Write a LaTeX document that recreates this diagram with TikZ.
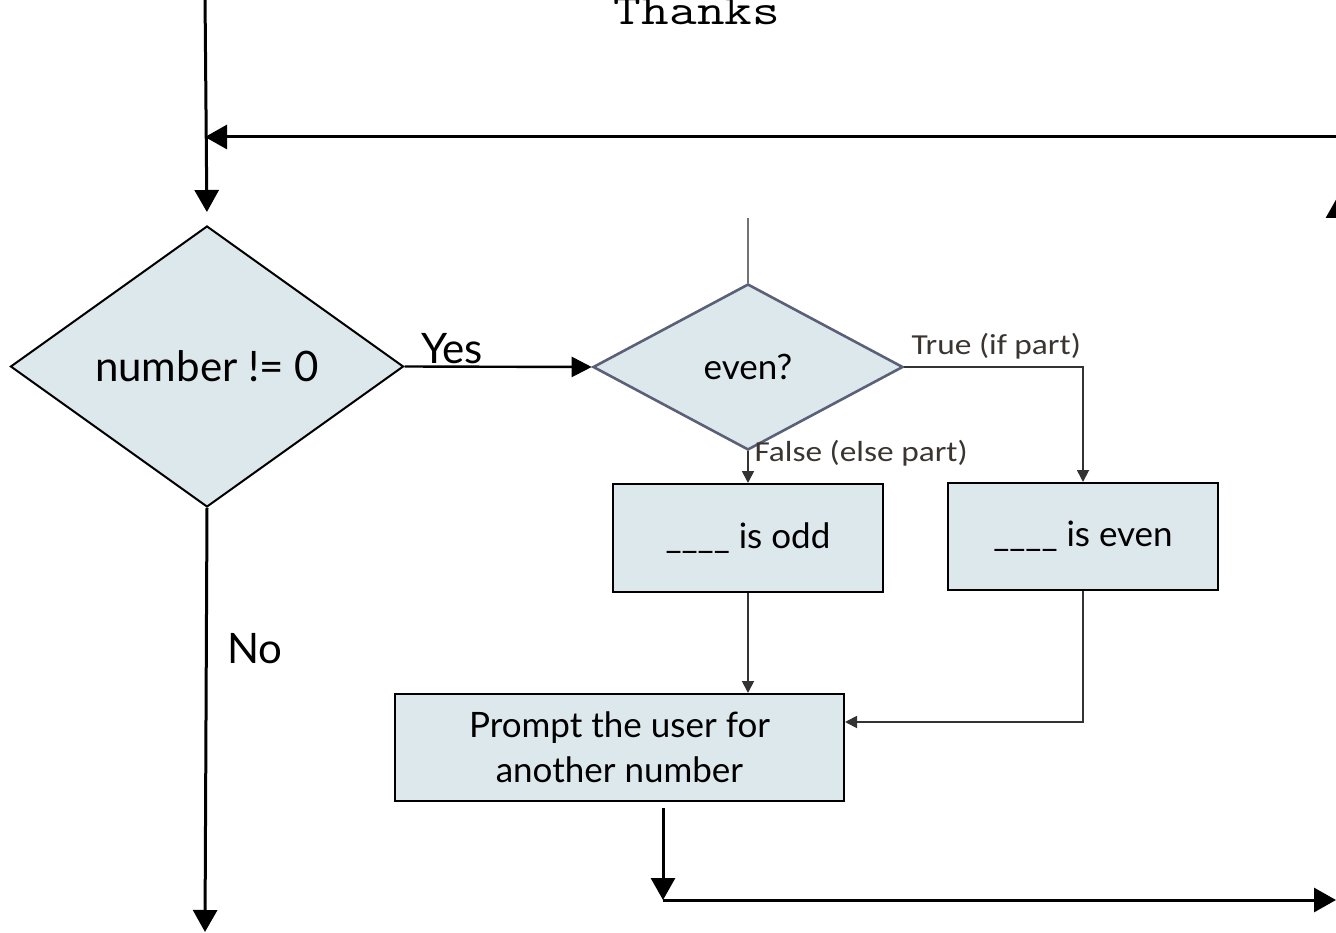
\documentclass[tikz,border=0pt]{standalone}
\usepackage{fontspec}
\setmainfont{Lato}
\newfontfamily\calfont{Carlito}
\usetikzlibrary{shapes.geometric,arrows.meta}
\definecolor{boxfill}{HTML}{DDE8EC}
\definecolor{dia2edge}{HTML}{5A6078}
\definecolor{labcol}{HTML}{3A3530}
\tikzset{
  bigarrow/.style={line width=3pt,-{Triangle[length=22pt,width=24pt]}},
  smallarrow/.style={line width=1.8pt,draw=black!80,-{Triangle[length=12pt,width=12pt]}},
  decision/.style={diamond,fill=boxfill,draw=black,line width=2pt,inner sep=0pt,aspect=1},
  procbox/.style={rectangle,fill=boxfill,draw=black,line width=2pt,inner sep=0pt,align=center},
  bigtext/.style={font=\fontsize{42}{48}\selectfont},
  midtext/.style={font=\fontsize{35}{45}\selectfont},
  caltext/.style={font=\calfont\fontsize{29}{32}\selectfont,text=labcol}
}
\begin{document}
\begin{tikzpicture}[x=1pt,y=-1pt]
\useasboundingbox (0,0) rectangle (1336,933);
% nodes
\node[decision,minimum width=393pt,minimum height=281pt,bigtext] (d1) at (207,366.5) {number != 0};
\node[decision,draw=dia2edge,line width=2.6pt,minimum width=310pt,minimum height=166pt,midtext] (d2) at (748,367) {even?};
\node[procbox,minimum width=270pt,minimum height=108pt,midtext] (odd) at (748,538) {\_\_\_\_ is odd};
\node[procbox,minimum width=270pt,minimum height=107pt,midtext] (even) at (1083,536.5) {\_\_\_\_ is even};
\node[procbox,minimum width=449pt,minimum height=107pt,midtext] (prompt) at (619.5,747.5) {Prompt the user for\\another number};
% labels
\node[bigtext,anchor=base] (yes) at (452,363) {Yes};
\node[bigtext,anchor=base] (no) at (255,663) {No};
\node[caltext,anchor=base west] (truelab) at (908,354) {\scalebox{1.15}[1]{True (if part)}};
\node[caltext,anchor=base west] (falselab) at (751,461) {\scalebox{1.15}[1]{False (else part)}};
\node[font=\ttfamily\fontsize{43}{48}\selectfont,anchor=base] (thanks) at (697,25) {\scalebox{1.25}[1]{Thanks}};
% coordinates
\coordinate (topin) at (205,-5);
\coordinate (loopr) at (1345,137);
\coordinate (loopl) at (205,137);
\coordinate (exitb) at (205,932);
\coordinate (d2in) at (748,218);
\coordinate (o1) at (663,808);
\coordinate (o2) at (663,900);
\coordinate (o3) at (1336,900);
\coordinate (upa) at (1338,260);
\coordinate (upb) at (1338,196);
% connectors
\draw[bigarrow,shorten >=13pt] (topin) -- (d1.north);
\draw[bigarrow] (loopr) -- (loopl);
\draw[bigarrow] (d1.south) -- (exitb);
\draw[line width=2.4pt,-{Triangle[length=20pt,width=20pt]}] (d1.east) -- (d2.west);
\draw[line width=2pt,draw=black!55] (d2in) -- (d2.north);
\draw[smallarrow] (d2.east) -| (even.north);
\draw[smallarrow] (d2.south) -- (odd.north);
\draw[smallarrow] (odd.south) -- (odd.south |- prompt.north);
\draw[smallarrow] (even.south) |- ([yshift=25.5pt]prompt.east);
\draw[bigarrow] (o1) -- (o2);
\draw[bigarrow] (o2) -- (o3);
\draw[bigarrow] (upa) -- (upb);
\end{tikzpicture}
\end{document}
